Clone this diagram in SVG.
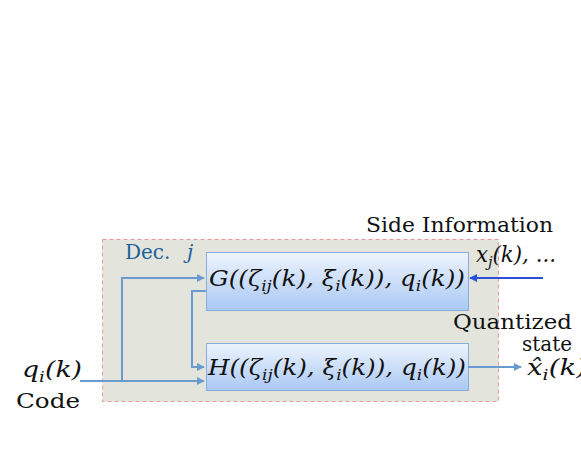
<svg xmlns="http://www.w3.org/2000/svg" width="581" height="449" viewBox="0 0 581 449">
<style>
.t{font-family:"DejaVu Serif","Liberation Serif",serif;font-size:20px;fill:#111}
.m{font-style:italic;font-size:22px}
.s{font-size:15px}
.box{fill:url(#g);stroke:#8aaedc;stroke-width:1}
.c{fill:none;stroke:#6a9bd0;stroke-width:2}
</style>
<defs>
<linearGradient id="g" x1="0" y1="0" x2="0" y2="1">
<stop offset="0" stop-color="#eef4fd"/>
<stop offset="1" stop-color="#a9c8f4"/>
</linearGradient>
<marker id="a" viewBox="0 0 10 10" refX="9" refY="5" markerWidth="4" markerHeight="4" orient="auto"><path d="M0,0L10,5L0,10z" fill="#6a9bd0"/></marker>
<marker id="b" viewBox="0 0 10 10" refX="9" refY="5" markerWidth="4" markerHeight="4" orient="auto"><path d="M0,0L10,5L0,10z" fill="#2a4fd8"/></marker>
</defs>
<g id="container">
<rect x="102.5" y="239.5" width="396" height="162" fill="#e3e5dc" stroke="#e89a9a" stroke-dasharray="4,3"/>
<text class="t" x="125" y="259" style="fill:#1f5f9a" font-size="20">Dec.<tspan x="187" font-style="italic">j</tspan></text>
</g>
<g id="G">
<rect class="box" x="206.5" y="252.5" width="262" height="58"/>
<text class="t m" x="209" y="286" textLength="256" lengthAdjust="spacingAndGlyphs">G((ζ<tspan class="s" dy="5">ij</tspan><tspan dy="-5">(k), ξ</tspan><tspan class="s" dy="5">i</tspan><tspan dy="-5">(k)), q</tspan><tspan class="s" dy="5">i</tspan><tspan dy="-5">(k))</tspan></text>
</g>
<g id="H">
<rect class="box" x="206.5" y="343.5" width="262" height="47"/>
<text class="t m" x="208" y="375" textLength="258" lengthAdjust="spacingAndGlyphs">H((ζ<tspan class="s" dy="5">ij</tspan><tspan dy="-5">(k), ξ</tspan><tspan class="s" dy="5">i</tspan><tspan dy="-5">(k)), q</tspan><tspan class="s" dy="5">i</tspan><tspan dy="-5">(k))</tspan></text>
</g>
<g id="labels">
<text class="t" x="366" y="232" textLength="187" lengthAdjust="spacingAndGlyphs">Side Information</text>
<text class="t m" x="476" y="262" textLength="80" lengthAdjust="spacingAndGlyphs">x<tspan class="s" dy="5">j</tspan><tspan dy="-5">(k), ...</tspan></text>
<text class="t" x="453" y="329" textLength="119" lengthAdjust="spacingAndGlyphs">Quantized</text>
<text class="t" x="522" y="351" font-size="19" textLength="50" lengthAdjust="spacingAndGlyphs">state</text>
<text class="t m" x="527" y="375" textLength="60" lengthAdjust="spacingAndGlyphs">x̂<tspan class="s" dy="5">i</tspan><tspan dy="-5">(k)</tspan></text>
<text class="t m" x="22" y="377" textLength="60" lengthAdjust="spacingAndGlyphs">q<tspan class="s" dy="5">i</tspan><tspan dy="-5">(k)</tspan></text>
<text class="t" x="16" y="408" textLength="64" lengthAdjust="spacingAndGlyphs">Code</text>
</g>
<g id="connectors">
<path class="c" d="M80,381H204" marker-end="url(#a)"/>
<path class="c" d="M122,381V278H204" marker-end="url(#a)"/>
<path class="c" d="M206,291H192V367H204" marker-end="url(#a)"/>
<path class="c" d="M468,367H521" marker-end="url(#a)"/>
<path fill="none" stroke="#2a4fd8" stroke-width="2" d="M543,278H470" marker-end="url(#b)"/>
</g>
</svg>
